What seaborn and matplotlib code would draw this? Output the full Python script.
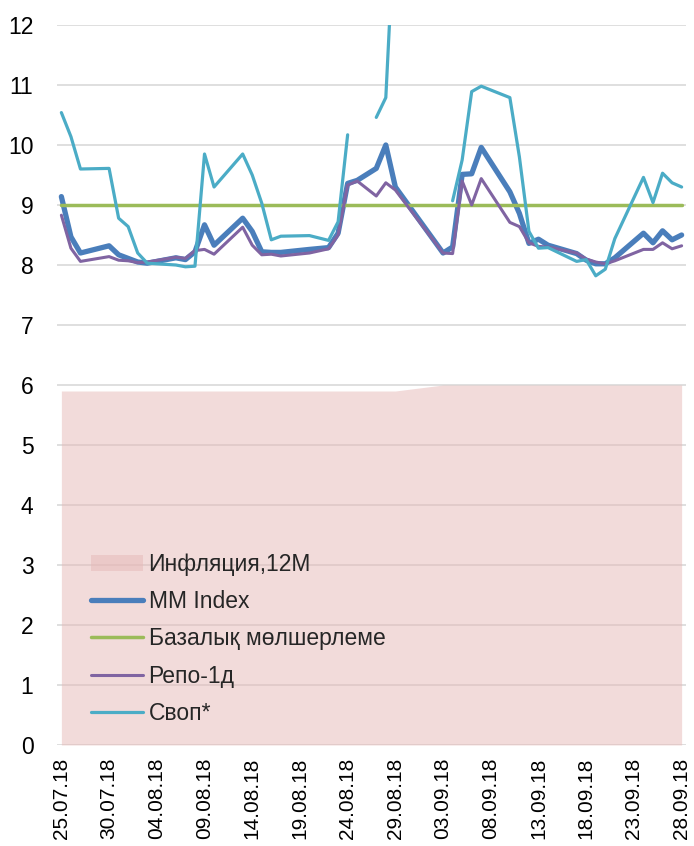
import numpy as np
import pandas as pd
import matplotlib
matplotlib.use("Agg")
import matplotlib.pyplot as plt
import matplotlib.dates as mdates
from matplotlib import font_manager
from matplotlib.patches import Patch
from matplotlib.lines import Line2D
import seaborn as sns

# ---- data ----
dates = ["2018-07-25", "2018-07-26", "2018-07-27", "2018-07-30", "2018-07-31",
         "2018-08-01", "2018-08-02", "2018-08-03", "2018-08-06", "2018-08-07",
         "2018-08-08", "2018-08-09", "2018-08-10", "2018-08-13", "2018-08-14",
         "2018-08-15", "2018-08-16", "2018-08-17", "2018-08-20", "2018-08-22",
         "2018-08-23", "2018-08-24", "2018-08-25", "2018-08-27", "2018-08-28",
         "2018-08-29", "2018-09-03", "2018-09-04", "2018-09-05", "2018-09-06",
         "2018-09-07", "2018-09-10", "2018-09-11", "2018-09-12", "2018-09-13",
         "2018-09-14", "2018-09-17", "2018-09-18", "2018-09-19", "2018-09-20",
         "2018-09-21", "2018-09-24", "2018-09-25", "2018-09-26", "2018-09-27",
         "2018-09-28"]

mm_index = [9.14, 8.47, 8.20, 8.32, 8.17, 8.11, 8.05, 8.03, 8.12, 8.09,
            8.22, 8.67, 8.33, 8.78, 8.56, 8.22, 8.21, 8.21, 8.26, 8.29,
            8.53, 9.36, 9.41, 9.61, 10.00, 9.30, 8.20, 8.30, 9.51, 9.52,
            9.96, 9.22, 8.86, 8.36, 8.43, 8.33, 8.19, 8.08, 8.02, 8.02,
            8.12, 8.53, 8.37, 8.57, 8.42, 8.50]

repo = [8.83, 8.28, 8.06, 8.14, 8.08, 8.07, 8.04, 8.05, 8.13, 8.11,
        8.24, 8.26, 8.18, 8.63, 8.33, 8.17, 8.18, 8.15, 8.20, 8.27,
        8.50, 9.33, 9.40, 9.15, 9.37, 9.25, 8.20, 8.19, 9.40, 9.00,
        9.44, 8.71, 8.64, 8.37, 8.31, 8.30, 8.20, 8.10, 8.05, 8.02,
        8.07, 8.26, 8.26, 8.37, 8.27, 8.32]

swap = [10.54, 10.14, 9.60, 9.61, 8.78, 8.64, 8.20, 8.03, 8.00, 7.97,
        7.98, 9.85, 9.30, 9.85, 9.50, 9.03, 8.42, 8.48, 8.49, 8.41,
        8.72, 10.17, np.nan, 10.46, 10.79, 14.0, np.nan, 9.07, 9.75, 10.89,
        10.98, 10.79, 9.80, 8.56, 8.28, 8.29, 8.06, 8.09, 7.82, 7.93,
        8.44, 9.46, 9.04, 9.53, 9.37, 9.30]

base_rate = [9.0] * len(dates)

inflation = [5.9] * 26 + [6.0] * 20

y_ticks = list(range(0, 13))
x_tick_dates = pd.date_range("2018-07-25", "2018-09-28", freq="5D")

labels = ["Инфляция,12M", "MM Index", "Базалық мөлшерлеме", "Репо-1д", "Своп*"]

df = pd.DataFrame({
    "date": pd.to_datetime(dates),
    "mm": mm_index,
    "repo": repo,
    "swap": swap,
    "base": base_rate,
    "infl": inflation,
})

# ---- style ----
sns.set_theme(style="white")
fam = None
names = {f.name for f in font_manager.fontManager.ttflist}
for cand in ["Liberation Sans Narrow", "Arial Narrow", "Arimo Narrow"]:
    if cand in names:
        fam = cand
        break
if fam is not None:
    fs = 18
    fs_x = 18
else:
    fam = "Liberation Sans"
    fs = 16.5
    fs_x = 15
plt.rcParams["font.family"] = [fam, "DejaVu Sans"]

c_area = "#E6B8B7"
c_mm = "#4A7EBB"
c_base = "#9BBB59"
c_repo = "#8064A2"
c_swap = "#4BACC6"

fig = plt.figure(figsize=(6.94, 8.46), dpi=100)
ax = fig.add_axes([57 / 694, 1 - 745 / 846, (686 - 57) / 694, (745 - 25) / 846])

# gridlines
ax.set_axisbelow(True)
ax.yaxis.grid(True, color="#D9D9D9", linewidth=1.2)
ax.xaxis.grid(False)

# inflation area
ax.fill_between(df["date"], 0, df["infl"], color=c_area, alpha=0.5, linewidth=0, zorder=1)

sns.lineplot(data=df, x="date", y="mm", ax=ax, color=c_mm, linewidth=3.8,
             solid_joinstyle="round", solid_capstyle="round", zorder=3)
sns.lineplot(data=df, x="date", y="base", ax=ax, color=c_base, linewidth=2.5, zorder=4)
sns.lineplot(data=df, x="date", y="repo", ax=ax, color=c_repo, linewidth=2.2,
             solid_joinstyle="round", zorder=5)

# swap with gaps at missing values
valid = df["swap"].notna()
seg_id = df["swap"].isna().cumsum()
for _, seg in df[valid].groupby(seg_id[valid]):
    sns.lineplot(data=seg, x="date", y="swap", ax=ax, color=c_swap, linewidth=2.3,
                 solid_joinstyle="round", zorder=6)

# axes
ax.set_ylim(0, 12)
ax.set_xlim(df["date"].iloc[0] - pd.Timedelta(hours=11), df["date"].iloc[-1] + pd.Timedelta(hours=11))
ax.set_yticks(y_ticks)
ax.set_xticks(x_tick_dates)
ax.xaxis.set_major_formatter(mdates.DateFormatter("%d.%m.%y"))
ax.tick_params(axis="y", length=0, pad=17, labelsize=fs, labelcolor="black")
ax.tick_params(axis="x", length=0, pad=9, labelsize=fs_x, labelcolor="black", rotation=90)
ax.set_xlabel("")
ax.set_ylabel("")
for s in ax.spines.values():
    s.set_visible(False)

handles = [
    Patch(facecolor=c_area, alpha=0.5, edgecolor="none"),
    Line2D([], [], color=c_mm, linewidth=3.8, solid_capstyle="round"),
    Line2D([], [], color=c_base, linewidth=2.5, solid_capstyle="round"),
    Line2D([], [], color=c_repo, linewidth=2.2, solid_capstyle="round"),
    Line2D([], [], color=c_swap, linewidth=2.3, solid_capstyle="round"),
]
leg = ax.legend(handles, labels, loc="upper left", bbox_to_anchor=(91 / 694, 1 - 553 / 846),
                bbox_transform=fig.transFigure, frameon=False, fontsize=fs,
                handlelength=2.25, handletextpad=0.26, labelspacing=0.62,
                borderaxespad=0, borderpad=0)

fig.savefig("out.png", dpi=100)
